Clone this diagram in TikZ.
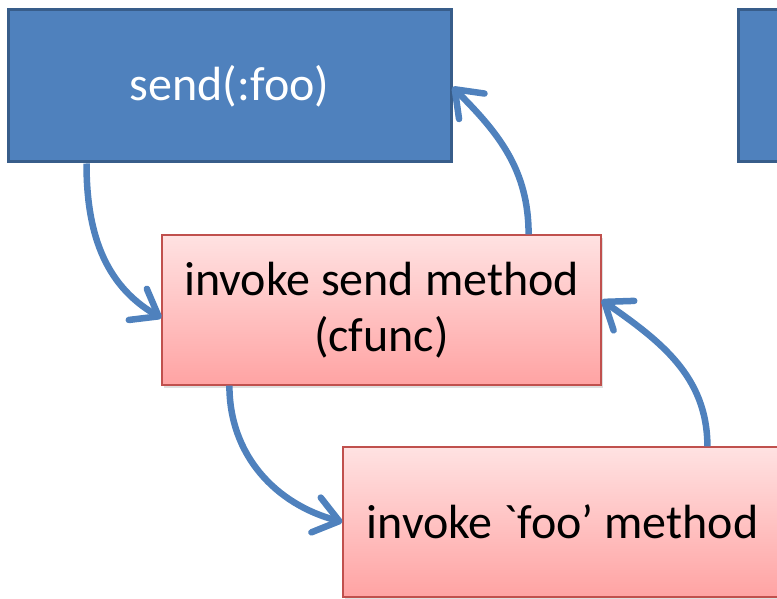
\documentclass[tikz,border=0pt]{standalone}
\usepackage{fontspec}
\setmainfont{Carlito}[Ligatures=TeXOff]
\usetikzlibrary{arrows.meta,positioning,shadows}
\definecolor{callblue}{HTML}{4F81BD}
\definecolor{callline}{HTML}{385D8A}
\definecolor{stepline}{HTML}{C0504D}
\definecolor{steptop}{HTML}{FFE2E2}
\definecolor{stepbot}{HTML}{FFA3A3}

\tikzset{
  callbox/.style={draw=callline, line width=3pt, fill=callblue, text=white,
    minimum width=443pt, minimum height=152pt, inner sep=0pt,
    font=\fontsize{48}{56}\selectfont},
  stepbox/.style={draw=stepline, line width=1.2pt, top color=steptop,
    bottom color=stepbot, minimum width=439pt, minimum height=150pt,
    inner sep=0pt, align=center, font=\fontsize{48}{56}\selectfont,
    drop shadow={shadow xshift=2pt, shadow yshift=-3pt, opacity=0.25}},
  flow/.style={draw=callblue, line width=6.5pt,
    -{Straight Barb[length=24pt,width=36pt,round]}}
}

\begin{document}
\begin{tikzpicture}[x=1pt,y=1pt]
  \useasboundingbox (0,0) rectangle (777,598);
  \clip (0,0) rectangle (777,598);
  %boxes
  \node[callbox] (send) at (229.5,512) {send(:foo)};
  \node[callbox, right=284pt of send] (next) {};
  \node[stepbox] (invk) at (381.5,288) {invoke send method\\(cfunc)};
  \node[stepbox] (foo) at (562.5,76) {invoke `foo’ method};
  %arrows
  \draw[flow] ([xshift=80pt]send.south west) to[out=-90, in=150]
    ([yshift=-8pt]invk.west);
  \draw[flow] ([xshift=-73pt]invk.north east) to[out=90, in=-45]
    ([yshift=-1pt]send.east);
  \draw[flow] ([xshift=68pt]invk.south west) to[out=-90, in=165]
    (foo.west);
  \draw[flow] ([xshift=365pt]foo.north west) to[out=90, in=-35]
    ([yshift=10pt]invk.east);
\end{tikzpicture}
\end{document}
